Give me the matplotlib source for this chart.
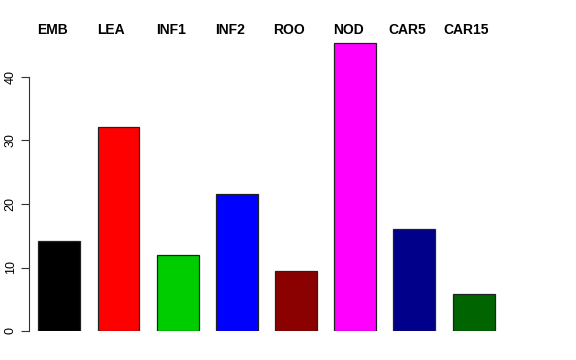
import matplotlib.pyplot as plt

labels = ['EMB', 'LEA', 'INF1', 'INF2', 'ROO', 'NOD', 'CAR5', 'CAR15']
values = [14.1, 32.1, 12.0, 21.6, 9.45, 45.35, 16.0, 5.9]
colors = ['#000000', '#ff0000', '#00cd00', '#0000ff', '#8b0000', '#ff00ff', '#00008b', '#006400']

plt.rcParams['font.family'] = ['Liberation Sans', 'DejaVu Sans']

fig = plt.figure(figsize=(5.76, 3.6), dpi=100)
W, H = 576, 360
# axes placed in pixel units (R-like margins)
left, right, bottom, top = 29, 560, 331, 38.9
ax = fig.add_axes([left / W, (H - bottom) / H, (right - left) / W, (bottom - top) / H])

x = list(range(len(values)))
ax.bar(x, values, width=0.709, color=colors, edgecolor='#222222', linewidth=0.9)

ax.set_xlim(-0.512, 8.46)
ax.set_ylim(0, 46)

for s in ['top', 'right', 'bottom']:
    ax.spines[s].set_visible(False)
ax.spines['left'].set_bounds(0, 40)
ax.spines['left'].set_color('#333333')
ax.set_xticks([])
ax.set_yticks([0, 10, 20, 30, 40])
ax.set_yticklabels(['0', '10', '20', '30', '40'], rotation=90, va='center')
ax.tick_params(axis='y', length=5.8, color='#333333', labelsize=9, pad=3)

for xi, lab in zip(x, labels):
    ax.text(xi - 0.12, 47.4, lab, ha='center', va='center', fontsize=10,
            fontweight='bold', clip_on=False)

fig.savefig('out.png', dpi=100)
